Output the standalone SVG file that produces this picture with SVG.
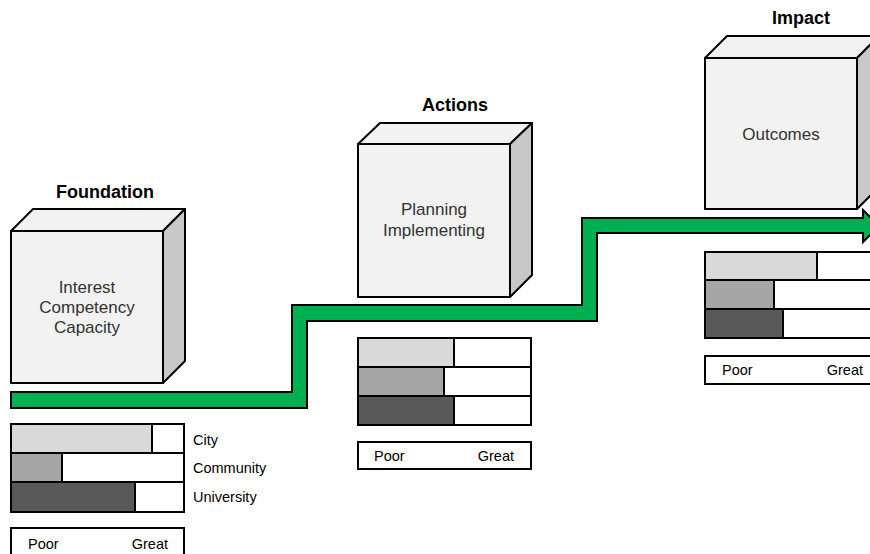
<svg xmlns="http://www.w3.org/2000/svg" width="870" height="554" viewBox="0 0 870 554">
<style>
.face{fill:#f2f2f2;stroke:#000;stroke-width:2;stroke-linejoin:round}
.side{fill:#c8c8c8;stroke:#000;stroke-width:2;stroke-linejoin:round}
.title{font-family:"Liberation Sans",Arial,sans-serif;font-weight:bold;font-size:18px;fill:#000;text-anchor:middle}
.body{font-family:"Liberation Sans",Arial,sans-serif;font-size:17px;fill:#333;text-anchor:middle}
.lbl{font-family:"Liberation Sans",Arial,sans-serif;font-size:14.5px;fill:#000}
.box{fill:#fff;stroke:#000;stroke-width:2}
.b1{fill:#d9d9d9;stroke:#000;stroke-width:2}
.b2{fill:#a6a6a6;stroke:#000;stroke-width:2}
.b3{fill:#595959;stroke:#000;stroke-width:2}
</style>
<rect width="870" height="554" fill="#fff"/>
<g id="connectors">
<polygon points="11,392 292,392 292,305 582,305 582,218 863,218 863,210 879,226 863,242 863,233 597,233 597,321 307,321 307,408 11,408" fill="#00b050" stroke="#000" stroke-width="2" stroke-linejoin="miter"/>
</g>
<g id="foundation">
<text class="title" x="105" y="198">Foundation</text>
<polygon class="face" points="11,231 33,209 185,209 163,231"/>
<polygon class="side" points="163,231 185,209 185,361 163,383"/>
<rect class="face" x="11" y="231" width="152" height="152"/>
<text class="body" x="87" y="293">Interest</text>
<text class="body" x="87" y="313">Competency</text>
<text class="body" x="87" y="333">Capacity</text>
</g>
<g id="foundation-bars">
<rect class="box" x="11" y="424" width="173" height="29"/>
<rect class="b1" x="11" y="424" width="141" height="29"/>
<rect class="box" x="11" y="453" width="173" height="29"/>
<rect class="b2" x="11" y="453" width="51" height="29"/>
<rect class="box" x="11" y="482" width="173" height="30"/>
<rect class="b3" x="11" y="482" width="124" height="30"/>
<text class="lbl" x="193" y="445">City</text>
<text class="lbl" x="193" y="473">Community</text>
<text class="lbl" x="193" y="502">University</text>
<rect class="box" x="11" y="528" width="173" height="30"/>
<text class="lbl" x="28" y="549">Poor</text>
<text class="lbl" x="168" y="549" text-anchor="end">Great</text>
</g>
<g id="actions">
<text class="title" x="455" y="111">Actions</text>
<polygon class="face" points="358,144 380,123 532,123 510,144"/>
<polygon class="side" points="510,144 532,123 532,275 510,297"/>
<rect class="face" x="358" y="144" width="152" height="153"/>
<text class="body" x="434" y="215">Planning</text>
<text class="body" x="434" y="236">Implementing</text>
</g>
<g id="actions-bars">
<rect class="box" x="358" y="338" width="173" height="29"/>
<rect class="b1" x="358" y="338" width="96" height="29"/>
<rect class="box" x="358" y="367" width="173" height="29"/>
<rect class="b2" x="358" y="367" width="86" height="29"/>
<rect class="box" x="358" y="396" width="173" height="29"/>
<rect class="b3" x="358" y="396" width="96" height="29"/>
<rect class="box" x="358" y="442" width="173" height="27"/>
<text class="lbl" x="374" y="461">Poor</text>
<text class="lbl" x="514" y="461" text-anchor="end">Great</text>
</g>
<g id="impact">
<text class="title" x="801" y="24">Impact</text>
<polygon class="face" points="705,58 727,36 879,36 857,58"/>
<polygon class="side" points="857,58 879,36 879,187 857,209"/>
<rect class="face" x="705" y="58" width="152" height="151"/>
<text class="body" x="781" y="140">Outcomes</text>
</g>
<g id="impact-bars">
<rect class="box" x="705" y="252" width="173" height="28"/>
<rect class="b1" x="705" y="252" width="112" height="28"/>
<rect class="box" x="705" y="280" width="173" height="29"/>
<rect class="b2" x="705" y="280" width="69" height="29"/>
<rect class="box" x="705" y="309" width="173" height="29"/>
<rect class="b3" x="705" y="309" width="78" height="29"/>
<rect class="box" x="705" y="356" width="173" height="28"/>
<text class="lbl" x="722" y="375">Poor</text>
<text class="lbl" x="863" y="375" text-anchor="end">Great</text>
</g>
</svg>
